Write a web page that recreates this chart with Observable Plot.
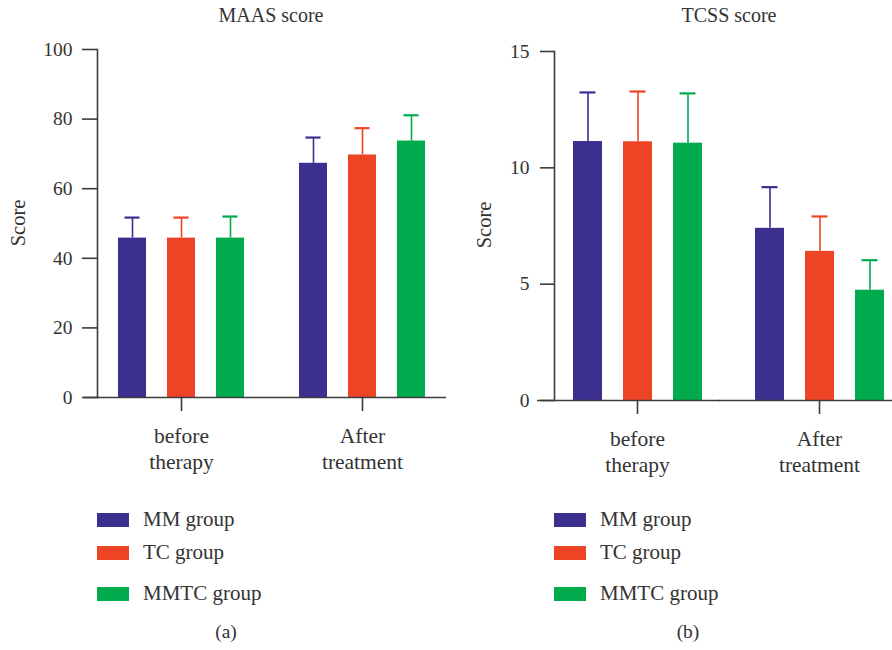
<!DOCTYPE html>
<html>
<head>
<meta charset="utf-8">
<script src="https://cdn.jsdelivr.net/npm/d3@7"></script>
<script src="https://cdn.jsdelivr.net/npm/@observablehq/plot@0.6"></script>
<style>
  html, body { margin: 0; padding: 0; background: #fff; overflow: hidden; }
  #root { position: relative; width: 892px; height: 650px; overflow: hidden; background: #fff;
          font-family: "Liberation Serif", "DejaVu Serif", serif; color: #333; }
  .t { position: absolute; white-space: nowrap; line-height: 1; }
  .panel { position: absolute; top: 0; }
  .panel svg { max-width: none !important; }
</style>
</head>
<body>
<div id="root"></div>
<script>
// ---------- data ----------
const groups = ["before therapy", "After treatment"];
const groupLabels = ["before\ntherapy", "After\ntreatment"];
const series = ["MM group", "TC group", "MMTC group"];
const seriesColors = ["#3b2f8f", "#ee4426", "#00ab4e"];

const maasTitle = "MAAS score";
const maasBefore = [45.8, 45.8, 45.8];
const maasBeforeSD = [5.9, 5.9, 6.2];
const maasAfter = [67.3, 69.7, 73.7];
const maasAfterSD = [7.4, 7.7, 7.4];
const maasTicks = [0, 20, 40, 60, 80, 100];

const tcssTitle = "TCSS score";
const tcssBefore = [11.13, 11.12, 11.06];
const tcssBeforeSD = [2.11, 2.16, 2.14];
const tcssAfter = [7.40, 6.41, 4.74];
const tcssAfterSD = [1.77, 1.50, 1.29];
const tcssTicks = [0, 5, 10, 15];

const yLabel = "Score";
const captions = ["(a)", "(b)"];

// ---------- helpers ----------
const FONT = '"Liberation Serif", "DejaVu Serif", serif';
const AXIS = "#3c3c3c";
const root = document.getElementById("root");

function rows(before, beforeSD, after, afterSD) {
  const out = [];
  [[before, beforeSD], [after, afterSD]].forEach(([m, s], gi) =>
    series.forEach((name, si) =>
      out.push({group: groups[gi], series: name, mean: m[si], sd: s[si], top: m[si] + s[si]})));
  return out;
}

function text(str, x, baseline, size, align = "left") {
  const d = document.createElement("div");
  d.className = "t";
  d.textContent = str;
  d.style.fontSize = size + "px";
  d.style.top = (baseline - 0.8375 * size) + "px";
  d.style.left = x + "px";
  if (align === "center") d.style.transform = "translateX(-50%)";
  root.appendChild(d);
  return d;
}

function vtext(str, cx, cy, size) {
  const d = document.createElement("div");
  d.className = "t";
  d.textContent = str;
  d.style.fontSize = size + "px";
  d.style.left = cx + "px";
  d.style.top = cy + "px";
  d.style.transform = "translate(-50%, -50%) rotate(-90deg)";
  root.appendChild(d);
}

function panel(data, o) {
  const H = 480;
  const chart = Plot.plot({
    width: o.width,
    height: H,
    marginLeft: o.marginLeft,
    marginRight: 0,
    marginTop: o.topY,
    marginBottom: H - o.zeroY,
    style: {fontFamily: FONT, fontSize: "19.5px", color: "#333", background: "transparent", overflow: "visible", maxWidth: "none"},
    fx: {domain: groups, paddingInner: o.fxInner, paddingOuter: 0, label: null},
    x: {domain: series, axis: null, paddingInner: 0.42, paddingOuter: o.xOuter},
    y: {domain: o.yDomain, label: null},
    color: {domain: series, range: seriesColors},
    marks: [
      Plot.barY(data, {fx: "group", x: "series", y: "mean", fill: "series"}),
      Plot.ruleX(data, {fx: "group", x: "series", y1: "mean", y2: "top", stroke: "series", strokeWidth: 1.6}),
      Plot.tickY(data, {fx: "group", x: "series", y: "top", stroke: "series", strokeWidth: 2.2, insetLeft: 6.5, insetRight: 6.5}),
      Plot.ruleY([0], {stroke: AXIS, strokeWidth: 1.6, insetLeft: -o.gap}),
      Plot.frame({anchor: "left", facetAnchor: "left", stroke: AXIS, strokeWidth: 1.6}),
      Plot.axisY({ticks: o.yTicks, tickSize: o.yTickSize, tickPadding: o.yTickPadding, stroke: AXIS, strokeWidth: 1.6, fontSize: 19.5, label: null}),
      Plot.axisFx({anchor: "bottom", tickSize: 14, tickPadding: 13, stroke: AXIS, strokeWidth: 1.6, fontSize: 21.5, lineHeight: 1.2,
                   tickFormat: g => groupLabels[groups.indexOf(g)], label: null})
    ]
  });
  const wrap = document.createElement("div");
  wrap.className = "panel";
  wrap.style.left = o.left + "px";
  wrap.style.width = o.width + "px";
  wrap.appendChild(chart);
  root.appendChild(wrap);
}

// ---------- panel (a) ----------
panel(rows(maasBefore, maasBeforeSD, maasAfter, maasAfterSD), {
  left: 0, width: 446, marginLeft: 97, topY: 49, zeroY: 397,
  fxInner: 0.072, xOuter: 0.39, gap: 13,
  yDomain: [0, 100], yTicks: maasTicks, yTickSize: 15, yTickPadding: 10
});

// ---------- panel (b) ----------
panel(rows(tcssBefore, tcssBeforeSD, tcssAfter, tcssAfterSD), {
  left: 446, width: 456, marginLeft: 107, topY: 51, zeroY: 400,
  fxInner: 0.09, xOuter: 0.367, gap: 17,
  yDomain: [0, 15], yTicks: tcssTicks, yTickSize: 14, yTickPadding: 11
});

// ---------- titles, axis labels, legends, captions ----------
text(maasTitle, 271, 22, 20, "center");
text(tcssTitle, 729, 22, 20, "center");
vtext(yLabel, 17.5, 223, 20.5);
vtext(yLabel, 483.5, 225, 20.5);

const legendLefts = [97, 554];
const swatchTops = [513, 546, 587];
const legendBaselines = [527, 560, 601];
legendLefts.forEach(lx => {
  series.forEach((name, i) => {
    const sw = document.createElement("div");
    sw.style.cssText = `position:absolute;left:${lx}px;top:${swatchTops[i]}px;width:32px;height:14px;background:${seriesColors[i]}`;
    root.appendChild(sw);
    text(name, lx + 46, legendBaselines[i], 21);
  });
});

text(captions[0], 226, 638.5, 19.5, "center");
text(captions[1], 688, 638.5, 19.5, "center");
</script>
</body>
</html>
